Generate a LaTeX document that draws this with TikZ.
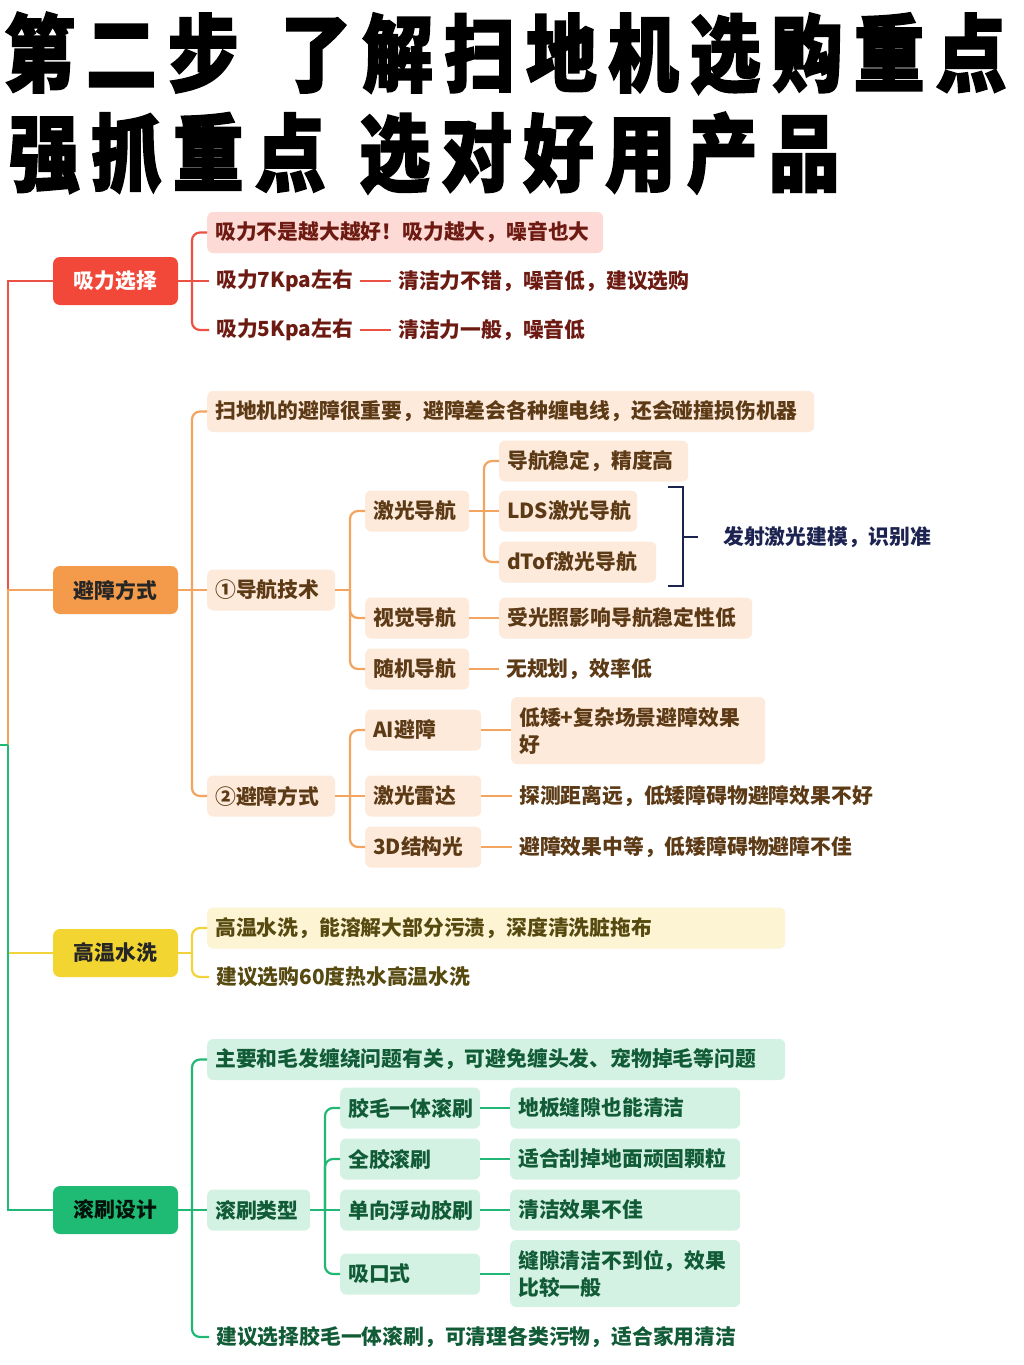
\documentclass[tikz,border=0pt]{standalone}
\usepackage{fontspec}
\usetikzlibrary{positioning}
\newfontfamily\cjk{Noto Sans CJK SC}
\newfontfamily\titlecjk{Noto Sans CJK SC}[FakeStretch=0.84, FakeBold=2.2, LetterSpace=13.5]
\newcommand\bodyf{\cjk\bfseries\fontsize{20.8}{27}\selectfont}
\newcommand\titlef{\titlecjk\bfseries\fontsize{84}{90}\selectfont}
\definecolor{rMain}{HTML}{F2483A}
\definecolor{rLine}{HTML}{EC5244}
\definecolor{rFill}{HTML}{FDDAD5}
\definecolor{rText}{HTML}{6D1B12}
\definecolor{oMain}{HTML}{F39B4A}
\definecolor{oLine}{HTML}{F3A45E}
\definecolor{oFill}{HTML}{FDEADB}
\definecolor{oText}{HTML}{5C3A16}
\definecolor{yMain}{HTML}{F3D531}
\definecolor{yLine}{HTML}{F2D33A}
\definecolor{yFill}{HTML}{FCF4D2}
\definecolor{yText}{HTML}{574A10}
\definecolor{gMain}{HTML}{1FBB74}
\definecolor{gLine}{HTML}{20B874}
\definecolor{gFill}{HTML}{D4F2E3}
\definecolor{gText}{HTML}{115C37}
\definecolor{navy}{HTML}{1D2350}
\begin{document}
\begin{tikzpicture}[x=1pt,y=-1pt,
  lnk/.style={line width=2.2pt, rounded corners=8pt},
  trunk/.style={line width=2.2pt},
  mainbox/.style={minimum width=125pt, minimum height=48pt, rounded corners=7pt, inner sep=0pt, font=\bodyf},
  leaf/.style={anchor=west, inner xsep=8pt, inner ysep=0pt, minimum height=41pt, rounded corners=6pt, align=left, font=\bodyf},
  plain/.style={anchor=west, inner xsep=7pt, inner ysep=0pt, minimum height=30pt, font=\bodyf}]
\useasboundingbox[fill=white] (0,0) rectangle (1024,1365);

% title
\node[anchor=north west, inner sep=0pt, font=\titlef] (t1) at (4,12) {第二步\hspace{42pt}了解扫地机选购重点};
\node[anchor=north west, inner sep=0pt, font=\titlef] (t2) at (9,112) {强抓重点\hspace{34pt}选对好用产品};

% main boxes
\node[mainbox, fill=rMain, text=white] (m1) at (115.5,281) {吸力选择};
\node[mainbox, fill=oMain, text=black!85] (m2) at (115.5,590) {避障方式};
\node[mainbox, fill=yMain, text=black!85] (m3) at (115.5,953) {高温水洗};
\node[mainbox, fill=gMain, text=black!80!gText] (m4) at (115.5,1210) {滚刷设计};

% trunk
\coordinate (root) at (0,745);
\coordinate (tr) at (8,745);
\draw[trunk, rLine] (tr) |- (m1.west);
\draw[trunk, oLine] (tr) |- (m2.west);
\draw[trunk, yLine] (tr) |- (m3.west);
\draw[trunk, gLine] (tr) |- (m4.west);
\draw[trunk, gLine] (root) -- (tr);

% ---------- red branch
\coordinate (f1) at (192,281);
\node[leaf, fill=rFill, text=rText, text width=380pt] (r1) at (207,232.5) {吸力不是越大越好！吸力越大，噪音也大};
\node[plain, text=rText] (r2) at (209,281) {吸力7Kpa左右};
\node[plain, text=rText, right=31pt of r2] (r2b) {清洁力不错，噪音低，建议选购};
\node[plain, text=rText] (r3) at (209,330) {吸力5Kpa左右};
\node[plain, text=rText, right=31pt of r3] (r3b) {清洁力一般，噪音低};
\draw[lnk, rLine] (m1.east) -- (f1);
\draw[lnk, rLine] (f1) |- (r1.west);
\draw[lnk, rLine] (f1) -- (r2.west);
\draw[lnk, rLine] (f1) |- (r3.west);
\draw[lnk, rLine] (r2) -- (r2b);
\draw[lnk, rLine] (r3) -- (r3b);

% ---------- orange branch
\coordinate (f2) at (192,590);
\node[leaf, fill=oFill, text=oText, text width=591pt] (o1) at (207,411.5) {扫地机的避障很重要，避障差会各种缠电线，还会碰撞损伤机器};
\node[leaf, fill=oFill, text=oText, text width=112pt] (o2) at (207,590) {①导航技术};
\node[leaf, fill=oFill, text=oText, text width=112pt] (o3) at (207,796) {②避障方式};
\draw[lnk, oLine] (m2.east) -- (f2);
\draw[lnk, oLine] (f2) |- (o1.west);
\draw[lnk, oLine] (f2) -- (o2.west);
\draw[lnk, oLine] (f2) |- (o3.west);

\coordinate (f21) at (350,590);
\node[leaf, fill=oFill, text=oText, text width=88pt] (o21) at (365,511) {激光导航};
\node[leaf, fill=oFill, text=oText, text width=88pt] (o22) at (365,618) {视觉导航};
\node[leaf, fill=oFill, text=oText, text width=88pt] (o23) at (365,669) {随机导航};
\draw[lnk, oLine] (o2.east) -- (f21);
\draw[lnk, oLine] (f21) |- (o21.west);
\draw[lnk, oLine] (f21) |- (o22.west);
\draw[lnk, oLine] (f21) |- (o23.west);

\coordinate (f211) at (484,511);
\node[leaf, fill=oFill, text=oText, text width=173pt] (o211) at (499,461) {导航稳定，精度高};
\node[leaf, fill=oFill, text=oText, text width=122pt] (o212) at (499,511) {LDS激光导航};
\node[leaf, fill=oFill, text=oText, text width=141pt] (o213) at (499,562) {dTof激光导航};
\draw[lnk, oLine] (o21.east) -- (f211);
\draw[lnk, oLine] (f211) |- (o211.west);
\draw[lnk, oLine] (f211) -- (o212.west);
\draw[lnk, oLine] (f211) |- (o213.west);

\node[leaf, fill=oFill, text=oText, text width=237pt] (o221) at (499,618) {受光照影响导航稳定性低};
\node[plain, text=oText] (o231) at (499,669) {无规划，效率低};
\draw[lnk, oLine] (o22) -- (o221);
\draw[lnk, oLine] (o23) -- (o231);

% bracket
\draw[line width=2.4pt, navy] (668,487) -- (683,487) -- (683,586) -- (668,586);
\draw[line width=2.4pt, navy] (683,537) -- (698,537);
\node[plain, text=navy] (brk) at (716,537) {发射激光建模，识别准};

\coordinate (f31) at (350,796);
\node[leaf, fill=oFill, text=oText, text width=100pt] (o31) at (365,730) {AI避障};
\node[leaf, fill=oFill, text=oText, text width=100pt] (o32) at (365,796) {激光雷达};
\node[leaf, fill=oFill, text=oText, text width=100pt] (o33) at (365,847) {3D结构光};
\draw[lnk, oLine] (o3.east) -- (f31);
\draw[lnk, oLine] (f31) |- (o31.west);
\draw[lnk, oLine] (f31) -- (o32.west);
\draw[lnk, oLine] (f31) |- (o33.west);

\node[leaf, fill=oFill, text=oText, text width=238pt, minimum height=67pt] (o311) at (511,730.5) {低矮+复杂场景避障效果\\好};
\node[plain, text=oText] (o321) at (512,796) {探测距离远，低矮障碍物避障效果不好};
\node[plain, text=oText] (o331) at (512,847) {避障效果中等，低矮障碍物避障不佳};
\draw[lnk, oLine] (o31.east) -- (o311.west |- o31.east);
\draw[lnk, oLine] (o32) -- (o321);
\draw[lnk, oLine] (o33) -- (o331);

% ---------- yellow branch
\coordinate (f3) at (192,953);
\node[leaf, fill=yFill, text=yText, text width=562pt] (y1) at (207,928) {高温水洗，能溶解大部分污渍，深度清洗脏拖布};
\node[plain, text=yText] (y2) at (209,977) {建议选购60度热水高温水洗};
\draw[lnk, yLine] (m3.east) -- (f3);
\draw[lnk, yLine] (f3) |- (y1.west);
\draw[lnk, yLine] (f3) |- (y2.west);

% ---------- green branch
\coordinate (f4) at (192,1210);
\node[leaf, fill=gFill, text=gText, text width=562pt] (g1) at (207,1059.5) {主要和毛发缠绕问题有关，可避免缠头发、宠物掉毛等问题};
\node[leaf, fill=gFill, text=gText, text width=87pt] (g2) at (207,1210) {滚刷类型};
\node[plain, text=gText] (g3) at (209,1337) {建议选择胶毛一体滚刷，可清理各类污物，适合家用清洁};
\draw[lnk, gLine] (m4.east) -- (f4);
\draw[lnk, gLine] (f4) |- (g1.west);
\draw[lnk, gLine] (f4) -- (g2.west);
\draw[lnk, gLine] (f4) |- (g3.west);

\coordinate (f41) at (325,1210);
\node[leaf, fill=gFill, text=gText, text width=124pt] (g21) at (340,1108) {胶毛一体滚刷};
\node[leaf, fill=gFill, text=gText, text width=124pt] (g22) at (340,1159) {全胶滚刷};
\node[leaf, fill=gFill, text=gText, text width=124pt] (g23) at (340,1210) {单向浮动胶刷};
\node[leaf, fill=gFill, text=gText, text width=124pt] (g24) at (340,1274) {吸口式};
\draw[lnk, gLine] (g2.east) -- (f41);
\draw[lnk, gLine] (f41) |- (g21.west);
\draw[lnk, gLine] (f41) |- (g22.west);
\draw[lnk, gLine] (f41) -- (g23.west);
\draw[lnk, gLine] (f41) |- (g24.west);

\node[leaf, fill=gFill, text=gText, text width=214pt] (g211) at (510,1108) {地板缝隙也能清洁};
\node[leaf, fill=gFill, text=gText, text width=214pt] (g221) at (510,1159) {适合刮掉地面顽固颗粒};
\node[leaf, fill=gFill, text=gText, text width=214pt] (g231) at (510,1210) {清洁效果不佳};
\node[leaf, fill=gFill, text=gText, text width=214pt, minimum height=67pt] (g241) at (510,1273.5) {缝隙清洁不到位，效果\\比较一般};
\draw[lnk, gLine] (g21) -- (g211);
\draw[lnk, gLine] (g22) -- (g221);
\draw[lnk, gLine] (g23) -- (g231);
\draw[lnk, gLine] (g24.east) -- (g241.west |- g24.east);
\end{tikzpicture}
\end{document}
